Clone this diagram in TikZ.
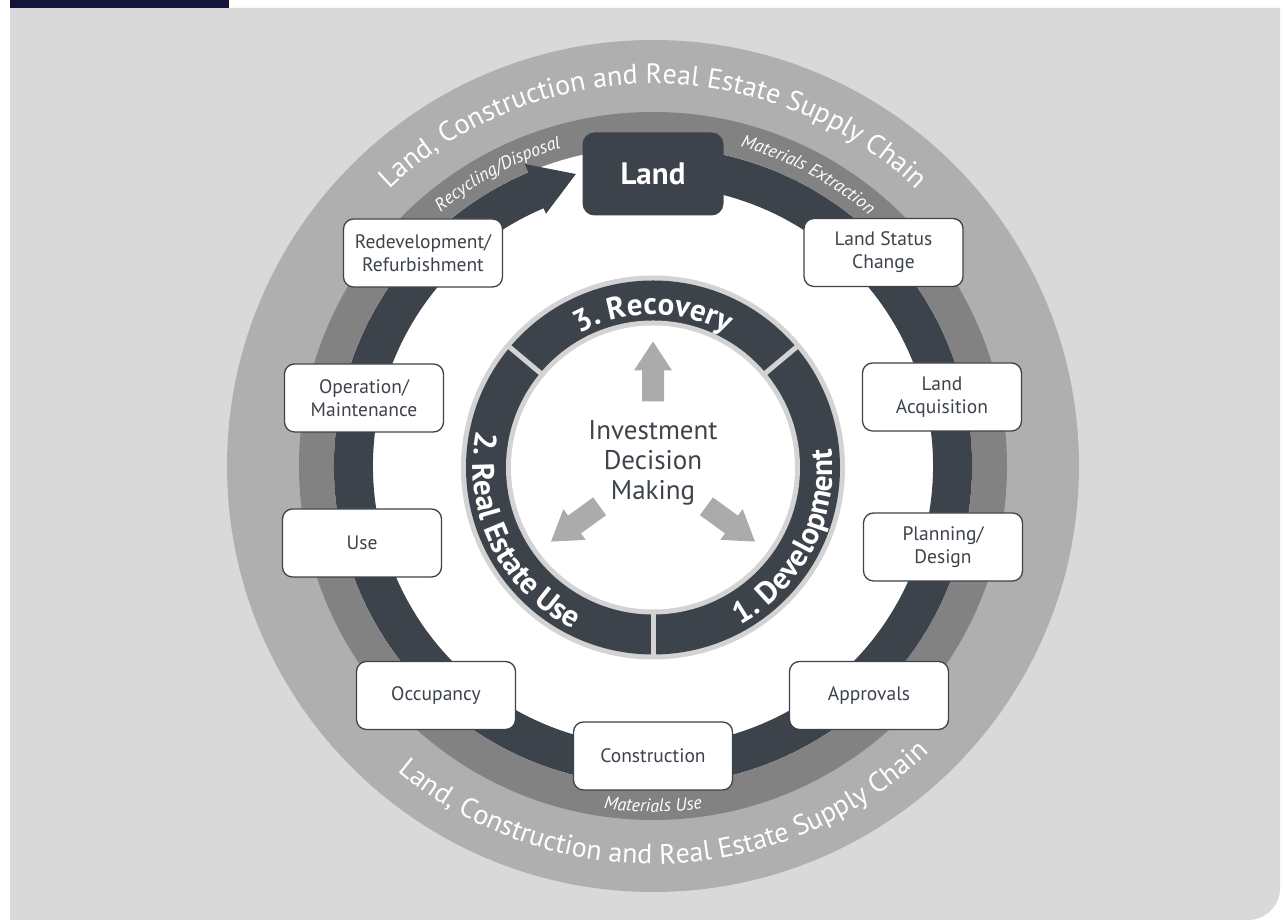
\documentclass[tikz,border=0pt]{standalone}
\usepackage{fontspec}
\setmainfont{PT Sans}
\usetikzlibrary{decorations.text}
\definecolor{bgray}{HTML}{D9D9D9}
\definecolor{ogray}{HTML}{AFAFAF}
\definecolor{mgray}{HTML}{828282}
\definecolor{dslate}{HTML}{3D434B}
\definecolor{lgray}{HTML}{D3D3D3}
\definecolor{agray}{HTML}{ABABAB}
\definecolor{navy}{HTML}{141439}
\begin{document}
\begin{tikzpicture}[x=1pt,y=1pt,
  stagebox/.style={draw=dslate, line width=1.3pt, fill=white, rounded corners=10pt,
    minimum width=159pt, minimum height=68pt, align=center, text=dslate,
    font=\fontsize{19.5}{23}\selectfont, inner sep=2pt},
  landbox/.style={fill=dslate, rounded corners=12pt, minimum width=141pt, minimum height=83pt,
    text=white, font=\bfseries\fontsize{31}{31}\selectfont},
  arctext/.style={decorate, decoration={text along path, text align=center, text={#1}}},
  blockarrow/.style={fill=agray}
  ]
\useasboundingbox (0,0) rectangle (1286,920);
\fill[white] (0,0) rectangle (1286,920);
\fill[bgray] (10,0) -- (10,912) -- (1280,912) -- (1280,32) arc[start angle=0,end angle=-90,radius=32] -- cycle;
\fill[navy] (10,912) rectangle (229,920);

% rings
\coordinate (C) at (653,454);
\fill[ogray] (C) circle[radius=426];
\fill[mgray] (C) circle[radius=354];
\fill[white] (C) circle[radius=319];
\fill[dslate] ([shift={(C)}]80:319) arc[start angle=80, end angle=-247.5, radius=319]
  -- ([shift={(C)}]-247.5:280) arc[start angle=-247.5, end angle=80, radius=280] -- cycle;
\fill[dslate] ([shift={(C)}]113:328) -- ([shift={(C)}]104.8:302) -- ([shift={(C)}]113:274) -- cycle;

% outer ring texts
\path[arctext={|\fontsize{28}{28}\selectfont\color{white}|Land, Construction and Real Estate Supply Chain}]
  ([shift={(C)}]169:382) arc[start angle=169, end angle=11, radius=382];
\path[arctext={|\fontsize{28}{28}\selectfont\color{white}|Land, Construction and Real Estate Supply Chain}]
  ([shift={(C)}]192:398) arc[start angle=192, end angle=352, radius=398];

% middle ring texts
\path[arctext={|\itshape\fontsize{18}{18}\selectfont\color{white}|Recycling/Disposal}]
  ([shift={(C)}]148:331) arc[start angle=148, end angle=88, radius=331];
\path[arctext={|\itshape\fontsize{18}{18}\selectfont\color{white}|Materials Extraction}]
  ([shift={(C)}]94:331) arc[start angle=94, end angle=30, radius=331];
\path[arctext={|\itshape\fontsize{18}{18}\selectfont\color{white}|Materials Use}]
  ([shift={(C)}]240:346) arc[start angle=240, end angle=300, radius=346];

% land box
\node[landbox] (land) at (653,746) {Land};

% stage boxes
\node[stagebox] (redev) at (423,667) {Redevelopment/\\Refurbishment};
\node[stagebox] (oper) at (364,522) {Operation/\\Maintenance};
\node[stagebox] (use) at (362,377) {Use};
\node[stagebox] (occ) at (436,224.5) {Occupancy};
\node[stagebox] (cons) at (653,164) {Construction};
\node[stagebox] (appr) at (869,224.5) {Approvals};
\node[stagebox] (plan) at (943,373) {Planning/\\Design};
\node[stagebox] (acq) at (942,523) {Land\\Acquisition};
\node[stagebox] (status) at (883.5,667.5) {Land Status\\Change};

% inner ring
\coordinate (I) at (653,452.5);
\fill[lgray] (I) circle[radius=192];
\fill[dslate] (I) circle[radius=187];
\fill[lgray] (I) circle[radius=147];
\fill[white] (I) circle[radius=142];
\foreach \a in {40,140,270} {
  \draw[lgray, line width=5pt] ([shift={(I)}]\a:145) -- ([shift={(I)}]\a:189);
}
\path[arctext={|\bfseries\fontsize{31}{31}\selectfont\color{white}|3. Recovery}]
  ([shift={(I)}]140:153) arc[start angle=140, end angle=40, radius=153];
\path[arctext={|\bfseries\fontsize{31}{31}\selectfont\color{white}|2. Real Estate Use}]
  ([shift={(I)}]140:180) arc[start angle=140, end angle=272, radius=180];
\path[arctext={|\bfseries\fontsize{31}{31}\selectfont\color{white}|1. Development}]
  ([shift={(I)}]-93:180) arc[start angle=-93, end angle=38, radius=180];

% centre
\node[text=dslate, align=center, font=\fontsize{27}{30}\selectfont] (idm) at (653,457) {Investment\\Decision\\Making};
\foreach \a in {90,216,324} {
  \fill[blockarrow, shift={(I)}, rotate=\a] (66,-11) -- (97,-11) -- (97,-19) -- (126,0) -- (97,19) -- (97,11) -- (66,11) -- cycle;
}
\end{tikzpicture}
\end{document}
